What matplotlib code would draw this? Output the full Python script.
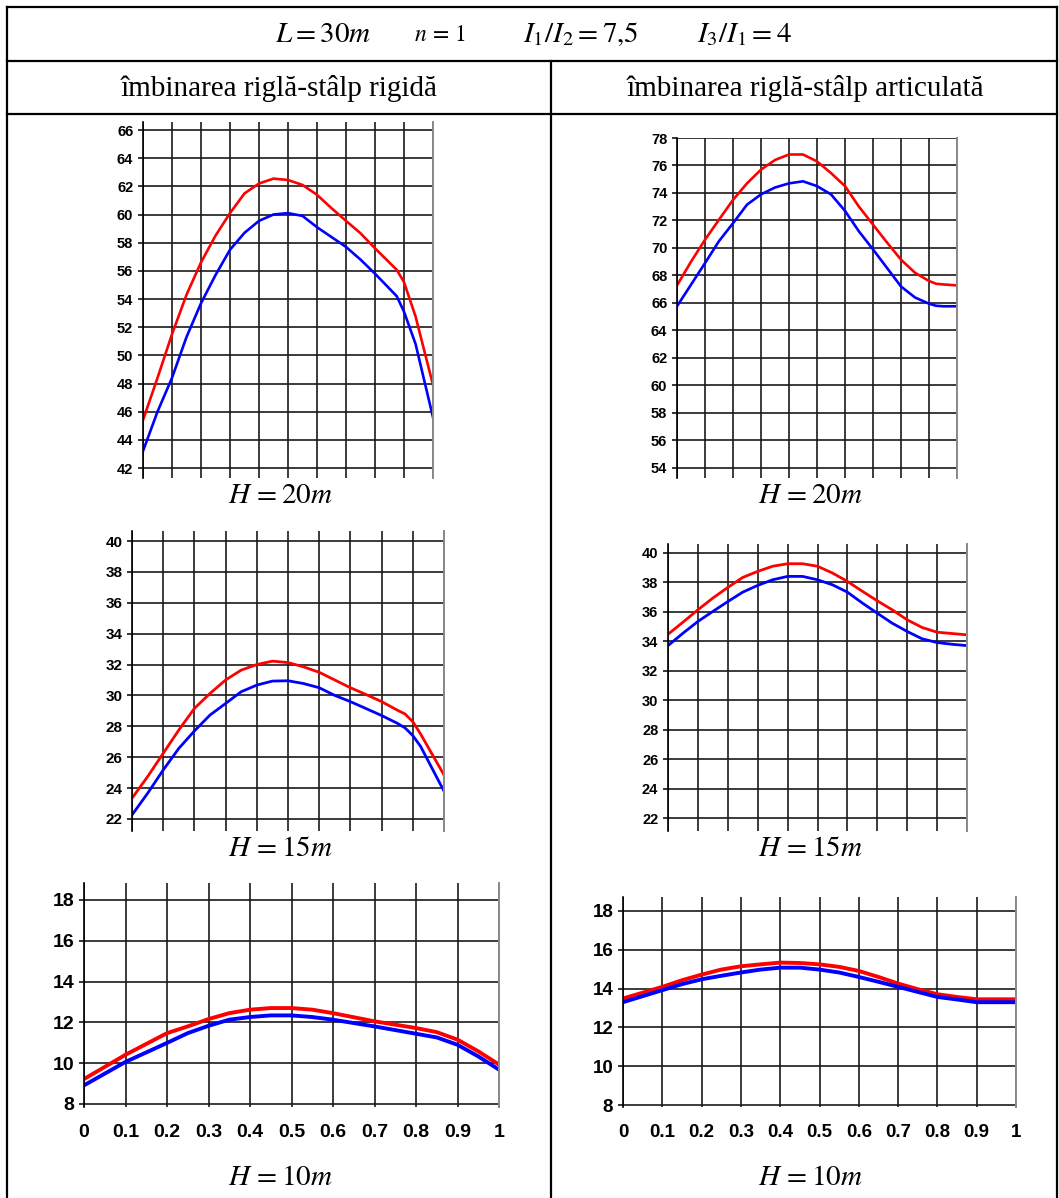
import numpy as np
import matplotlib
matplotlib.use('Agg')
import matplotlib.pyplot as plt

plt.rcParams['mathtext.fontset'] = 'stix'
plt.rcParams['font.family'] = ['Liberation Sans', 'DejaVu Sans']

W, H = 1059, 1198

# ---- data (x = relative position, y = value) ----
x_tl = [0, 0.05, 0.1, 0.15, 0.2, 0.25, 0.3, 0.35, 0.4, 0.45, 0.5, 0.55, 0.6, 0.65, 0.7, 0.75, 0.8, 0.875, 0.9, 0.94, 1.0]
red_tl = [45.4, 48.4, 51.5, 54.3, 56.6, 58.5, 60.1, 61.5, 62.2, 62.55, 62.45, 62.1, 61.4, 60.45, 59.55, 58.67, 57.6, 56.07, 55.2, 52.75, 47.9]
blue_tl = [43.2, 46.0, 48.4, 51.3, 53.7, 55.7, 57.5, 58.7, 59.55, 60.0, 60.1, 59.9, 59.1, 58.4, 57.7, 56.8, 55.8, 54.2, 53.1, 50.8, 45.6]

x_tr = [0, 0.05, 0.1, 0.15, 0.2, 0.25, 0.3, 0.35, 0.4, 0.45, 0.5, 0.55, 0.6, 0.65, 0.7, 0.75, 0.8, 0.85, 0.9, 0.925, 0.95, 1.0]
red_tr = [67.28, 69.0, 70.6, 72.06, 73.5, 74.7, 75.7, 76.4, 76.8, 76.8, 76.3, 75.45, 74.5, 73.0, 71.7, 70.4, 69.15, 68.2, 67.6, 67.4, 67.35, 67.28]
blue_tr = [65.76, 67.33, 68.9, 70.5, 71.8, 73.15, 73.9, 74.4, 74.7, 74.85, 74.5, 73.9, 72.7, 71.2, 69.9, 68.55, 67.2, 66.4, 65.95, 65.8, 65.76, 65.76]

x_ml = [0, 0.05, 0.1, 0.15, 0.2, 0.25, 0.3, 0.35, 0.4, 0.45, 0.5, 0.55, 0.6, 0.65, 0.7, 0.75, 0.8, 0.85, 0.875, 0.9, 0.925, 1.0]
red_ml = [23.34, 24.74, 26.25, 27.76, 29.16, 30.13, 31.0, 31.64, 32.0, 32.22, 32.13, 31.85, 31.5, 31.0, 30.5, 30.06, 29.6, 29.05, 28.8, 28.3, 27.5, 24.85]
blue_ml = [22.26, 23.66, 25.17, 26.57, 27.7, 28.73, 29.48, 30.24, 30.67, 30.93, 30.95, 30.77, 30.5, 30.0, 29.6, 29.15, 28.7, 28.2, 27.9, 27.4, 26.7, 23.8]

x_mr = [0, 0.05, 0.1, 0.15, 0.2, 0.25, 0.3, 0.35, 0.4, 0.45, 0.5, 0.55, 0.6, 0.65, 0.7, 0.75, 0.8, 0.85, 0.9, 0.95, 1.0]
red_mr = [34.48, 35.3, 36.14, 36.94, 37.66, 38.34, 38.75, 39.1, 39.27, 39.27, 39.1, 38.64, 38.07, 37.4, 36.75, 36.14, 35.46, 34.94, 34.62, 34.53, 34.44]
blue_mr = [33.71, 34.55, 35.35, 36.03, 36.7, 37.34, 37.8, 38.18, 38.41, 38.41, 38.18, 37.84, 37.34, 36.6, 35.91, 35.23, 34.67, 34.17, 33.92, 33.8, 33.71]

x_bl = [0, 0.1, 0.2, 0.25, 0.3, 0.35, 0.4, 0.45, 0.5, 0.55, 0.6, 0.7, 0.8, 0.85, 0.9, 0.95, 1.0]
red_bl = [9.22, 10.41, 11.47, 11.8, 12.16, 12.45, 12.62, 12.7, 12.7, 12.62, 12.45, 12.05, 11.72, 11.52, 11.15, 10.58, 9.93]
blue_bl = [8.91, 10.06, 10.99, 11.47, 11.83, 12.13, 12.26, 12.34, 12.34, 12.26, 12.13, 11.8, 11.44, 11.26, 10.9, 10.33, 9.68]

x_br = [0, 0.1, 0.15, 0.2, 0.25, 0.3, 0.35, 0.4, 0.45, 0.5, 0.55, 0.6, 0.65, 0.7, 0.75, 0.8, 0.85, 0.9, 0.95, 1.0]
red_br = [13.49, 14.09, 14.43, 14.72, 14.98, 15.15, 15.25, 15.34, 15.32, 15.25, 15.12, 14.91, 14.6, 14.26, 13.97, 13.71, 13.57, 13.45, 13.45, 13.45]
blue_br = [13.3, 13.92, 14.23, 14.48, 14.66, 14.83, 14.98, 15.08, 15.08, 14.98, 14.83, 14.6, 14.35, 14.09, 13.83, 13.57, 13.44, 13.3, 13.3, 13.3]

x_ticks = np.round(np.arange(0, 1.01, 0.1), 1)
x_labels = ['0', '0.1', '0.2', '0.3', '0.4', '0.5', '0.6', '0.7', '0.8', '0.9', '1']

header = 'îmbinarea riglă-stâlp rigidă'
header_r = 'îmbinarea riglă-stâlp articulată'
h_labels = [r'$H\,=20m$', r'$H\,=15m$', r'$H\,=10m$']

fig = plt.figure(figsize=(W / 100, H / 100), dpi=100)

# background axes in pixel coordinates for the table frame and texts
bg = fig.add_axes([0, 0, 1, 1])
bg.set_xlim(0, W)
bg.set_ylim(H, 0)
bg.axis('off')
lw_tab = 1.6
bg.plot([7, 7], [7, H], color='black', lw=lw_tab)
bg.plot([1057, 1057], [7, H], color='black', lw=lw_tab)
bg.plot([7, 1057], [7, 7], color='black', lw=lw_tab)
bg.plot([7, 1057], [61, 61], color='black', lw=lw_tab)
bg.plot([7, 1057], [114, 114], color='black', lw=lw_tab)
bg.plot([551, 551], [61, H], color='black', lw=lw_tab)

# title row
bg.text(323, 42, r'$L=30m$', fontsize=21, ha='center', va='baseline')
bg.text(440, 41, r'$n\,=\,1$', fontsize=17, ha='center', va='baseline')
bg.text(581, 42, r'$I_1/I_2=7{,}5$', fontsize=21, ha='center', va='baseline')
bg.text(744, 42, r'$I_3/I_1=4$', fontsize=21, ha='center', va='baseline')

bg.text(279, 88, header, fontsize=21, family='Liberation Serif', ha='center', va='center')
bg.text(805, 88, header_r, fontsize=21, family='Liberation Serif', ha='center', va='center')


def make_panel(px, ylo, yhi, ymin, ymax, xs, red, blue, fs, lw, xlab, lab, lab_xy):
    x0, x1, ytop, ybot = px
    ax = fig.add_axes([x0 / W, 1 - ybot / H, (x1 - x0) / W, (ybot - ytop) / H])
    ax.set_xlim(0, 1)
    ax.set_ylim(ylo, yhi)
    ax.set_xticks(x_ticks)
    ax.set_yticks(np.arange(ymin, ymax + 1, 2))
    ax.grid(True, color='#1a1a1a', lw=1.2)
    ax.set_axisbelow(True)
    for s in ['top', 'bottom']:
        ax.spines[s].set_visible(False)
    ax.spines['left'].set_color('black')
    ax.spines['left'].set_linewidth(1.2)
    ax.spines['right'].set_color('#8a8a8a')
    ax.spines['right'].set_linewidth(1.4)
    ax.tick_params(axis='y', direction='out', length=3.5, width=1.1, pad=3.5, labelsize=fs)
    if xlab:
        ax.set_xticklabels(x_labels)
        ax.tick_params(axis='x', length=0, pad=12, labelsize=fs)
    else:
        ax.tick_params(axis='x', length=0, labelbottom=False)
    for t in ax.get_xticklabels() + ax.get_yticklabels():
        t.set_fontweight('bold')
    ax.plot(xs, red, color='#ff0000', lw=lw, solid_joinstyle='round')
    ax.plot(xs, blue, color='#0000ff', lw=lw, solid_joinstyle='round')
    bg.text(lab_xy[0], lab_xy[1], lab, fontsize=21, ha='center', va='center')
    return ax


make_panel((143, 433, 122, 478), 41.29, 66.57, 42, 66, x_tl, red_tl, blue_tl, 10.5, 1.9, False, h_labels[0], (280, 495))
make_panel((677, 957, 138, 478), 53.27, 78.0, 54, 78, x_tr, red_tr, blue_tr, 10.5, 1.9, False, h_labels[0], (810, 495))
make_panel((132, 444, 531, 831), 21.22, 40.65, 22, 40, x_ml, red_ml, blue_ml, 11, 2.0, False, h_labels[1], (280, 848))
make_panel((668, 967, 544, 831), 21.12, 40.61, 22, 40, x_mr, red_mr, blue_mr, 10.5, 2.0, False, h_labels[1], (810, 848))
make_panel((84, 499, 883, 1107), 7.85, 18.83, 8, 18, x_bl, red_bl, blue_bl, 14, 2.8, True, h_labels[2], (280, 1177))
make_panel((623, 1016, 897, 1107), 7.9, 18.72, 8, 18, x_br, red_br, blue_br, 13.5, 2.8, True, h_labels[2], (810, 1177))

fig.savefig('out.png', dpi=100)
